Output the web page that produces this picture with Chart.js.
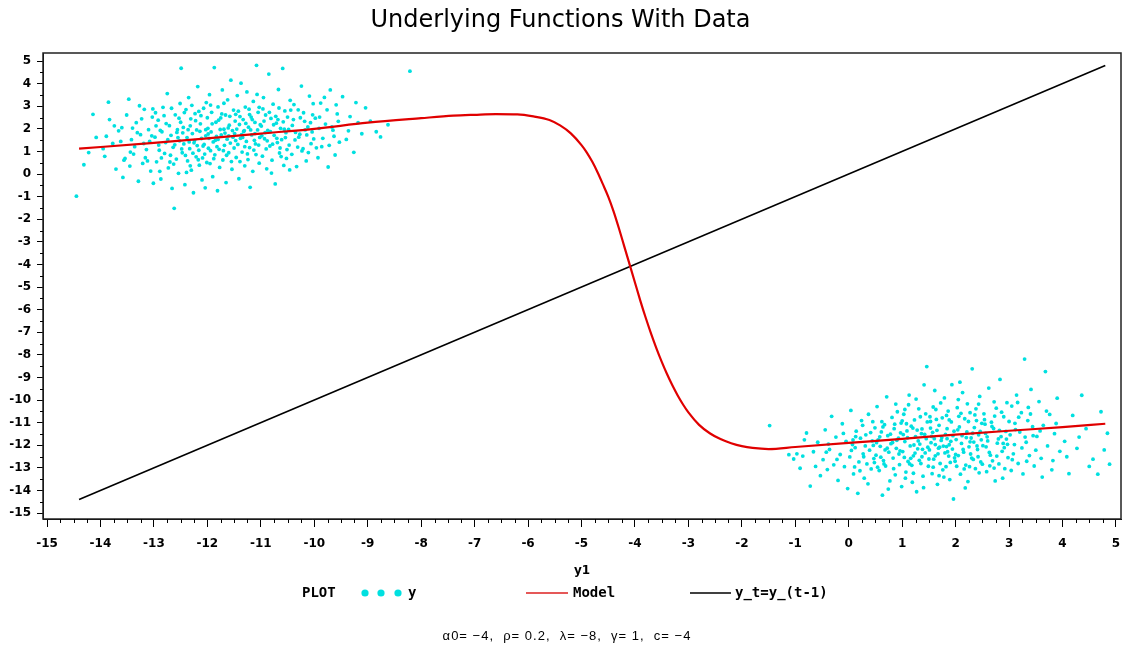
<!DOCTYPE html>
<html>
<head>
<meta charset="utf-8">
<title>Underlying Functions With Data</title>
<script src="https://cdn.jsdelivr.net/npm/chart.js"></script>
<style>
  body { margin: 0; background: #fff; }
  #wrap { width: 1125px; height: 652px; }
</style>
</head>
<body>
<div id="wrap"><canvas id="myChart" width="1125" height="652"></canvas></div>
<script>
// observed points (y1, y), upper regime
var obsUpper = [
  [-14.45,-0.98],[-14.22,0.95],[-14.08,1.62],[-14.31,0.41],[-14.14,2.64],
  [-13.92,0.78],[-13.85,3.18],[-13.77,1.35],[-13.71,0.22],[-13.66,1.91],[-13.6,2.05],[-13.95,1.12],[-13.54,0.69],[-13.83,2.41],[-13.58,-0.15],
  [-13.47,3.31],[-13.42,1.52],[-13.38,0.88],[-13.33,2.27],[-13.29,-0.32],[-13.25,1.74],[-13.21,0.47],[-13.18,2.86],[-13.14,1.08],[-13.1,1.96],[-13.06,0.13],[-13.03,2.52],[-13.45,0.35],[-13.36,1.21],[-13.27,3.02],[-13.16,0.72],[-13.08,1.44],[-13.01,-0.41],
  [-12.98,1.63],[-12.95,0.54],[-12.92,2.38],[-12.9,1.05],[-12.87,-0.22],[-12.85,1.87],[-12.83,2.95],[-12.8,0.91],[-12.78,1.39],[-12.75,3.56],[-12.73,0.27],[-12.71,2.14],[-12.68,1.71],[-12.66,-0.64],[-12.64,1.18],[-12.62,-1.52],[-12.6,2.62],[-12.58,0.66],[-12.56,1.96],[-12.54,0.03],[-12.52,1.47],[-12.51,3.12],[-12.97,2.71],[-12.89,0.12],[-12.77,2.23],[-12.69,0.83],[-12.61,1.29],[-12.53,2.47],
  [-12.49,4.68],[-12.47,0.94],[-12.45,2.06],[-12.44,1.33],[-12.42,-0.47],[-12.4,2.85],[-12.38,1.61],[-12.37,0.58],[-12.35,3.38],[-12.33,1.12],[-12.31,2.44],[-12.3,0.17],[-12.28,1.79],[-12.26,-0.83],[-12.25,1.38],[-12.23,2.67],[-12.21,0.76],[-12.2,1.95],[-12.18,3.87],[-12.16,1.05],[-12.15,0.39],[-12.13,2.22],[-12.11,1.57],[-12.1,-0.26],[-12.08,1.24],[-12.07,2.91],[-12.05,0.88],[-12.03,1.69],[-12.02,3.16],[-12.01,0.51],[-12.46,1.82],[-12.39,0.07],[-12.32,2.13],[-12.24,1.48],[-12.17,0.63],[-12.12,2.58],[-12.06,1.31],[-12.04,-0.61],
  [-11.99,2.02],[-11.98,1.14],[-11.96,3.51],[-11.95,0.46],[-11.93,1.86],[-11.92,2.73],[-11.9,-0.12],[-11.89,1.42],[-11.87,4.71],[-11.86,0.85],[-11.84,2.29],[-11.83,1.66],[-11.81,-0.74],[-11.8,2.97],[-11.78,1.09],[-11.77,0.29],[-11.75,2.48],[-11.74,1.73],[-11.72,3.72],[-11.71,0.62],[-11.69,1.98],[-11.68,1.27],[-11.66,2.61],[-11.65,-0.38],[-11.63,1.54],[-11.62,3.28],[-11.6,0.94],[-11.59,2.16],[-11.57,1.37],[-11.56,4.15],[-11.54,0.21],[-11.53,1.92],[-11.51,2.83],[-11.97,1.58],[-11.88,0.68],[-11.79,2.38],[-11.7,1.03],[-11.61,2.04],[-11.55,0.55],[-11.52,1.63],[-11.94,3.05],[-11.82,1.21],
  [-11.49,1.79],[-11.47,2.64],[-11.46,0.73],[-11.44,3.47],[-11.43,1.31],[-11.41,-0.21],[-11.4,2.19],[-11.38,1.58],[-11.37,4.02],[-11.35,0.97],[-11.33,2.41],[-11.32,1.88],[-11.3,0.36],[-11.29,2.96],[-11.27,1.44],[-11.26,3.63],[-11.24,0.64],[-11.23,2.07],[-11.21,1.17],[-11.2,-0.59],[-11.18,2.52],[-11.17,1.73],[-11.15,0.12],[-11.14,3.21],[-11.12,1.49],[-11.11,2.28],[-11.09,0.86],[-11.08,4.81],[-11.06,1.95],[-11.05,2.73],[-11.03,0.48],[-11.02,1.62],[-11.48,2.34],[-11.39,0.55],[-11.31,1.92],[-11.22,2.87],[-11.13,1.06],[-11.07,3.52],[-11.04,1.28],[-11.36,1.74],
  [-10.99,2.12],[-10.97,0.79],[-10.95,3.38],[-10.93,1.56],[-10.91,2.61],[-10.89,0.23],[-10.87,1.93],[-10.85,4.42],[-10.83,1.24],[-10.81,2.46],[-10.79,0.61],[-10.77,3.09],[-10.75,1.71],[-10.73,-0.44],[-10.71,2.25],[-10.69,1.39],[-10.67,3.74],[-10.65,0.93],[-10.63,2.02],[-10.61,1.52],[-10.59,4.67],[-10.57,0.38],[-10.55,2.79],[-10.53,1.83],[-10.51,1.08],[-10.96,2.88],[-10.88,1.47],[-10.8,0.04],[-10.72,2.55],[-10.64,1.15],[-10.58,2.31],[-10.52,0.69],
  [-10.48,1.97],[-10.45,3.26],[-10.42,0.87],[-10.39,2.41],[-10.36,1.51],[-10.33,0.33],[-10.3,2.84],[-10.27,1.76],[-10.24,3.89],[-10.21,1.12],[-10.18,2.33],[-10.15,0.58],[-10.12,2.08],[-10.09,3.45],[-10.06,1.34],[-10.03,2.62],[-10.46,0.18],[-10.38,3.07],[-10.29,1.63],[-10.2,2.71],[-10.11,0.95],[-10.04,1.86],
  [-9.98,2.47],[-9.93,0.72],[-9.88,3.14],[-9.84,1.58],[-9.79,2.21],[-9.74,0.31],[-9.7,3.72],[-9.65,1.94],[-9.61,0.84],[-9.57,2.66],[-9.53,1.41],[-9.96,1.16],[-9.81,3.39],[-9.67,2.08],
  [-9.47,3.42],[-9.4,1.53],[-9.33,2.54],[-9.26,0.96],[-9.18,2.27],[-9.11,1.78],[-9.04,2.93],
  [-8.95,2.34],[-8.84,1.87],[-8.76,1.64],[-8.62,2.18],[-8.21,4.55],
  [-13.62,1.44],[-13.51,2.61],[-13.44,0.97],[-13.31,1.83],[-13.23,2.44],[-13.12,0.58],[-13.04,1.69],[-12.96,2.13],[-12.91,1.28],[-12.86,0.71],[-12.81,2.58],[-12.74,1.52],[-12.67,2.91],[-12.63,0.44],[-12.57,1.84],[-12.5,2.29],[-12.48,1.11],[-12.43,2.72],[-12.41,0.82],[-12.36,1.96],[-12.34,1.42],[-12.29,3.04],[-12.27,0.92],[-12.22,2.36],[-12.19,1.26],[-12.14,1.89],[-12.09,0.71],[-12.0,2.49],[-11.985,1.77],[-11.91,2.22],[-11.85,1.49],[-11.76,1.97],[-11.73,2.66],[-11.67,1.81],[-11.64,0.83],[-11.58,2.55],[-11.5,1.15],[-11.45,1.99],[-11.42,2.78],[-11.34,1.62],[-11.28,2.24],[-11.25,0.89],[-11.19,1.95],[-11.16,2.41],[-11.1,1.33],[-11.01,2.18],[-10.98,1.69],[-10.94,2.34],[-10.9,1.11],[-10.84,2.73],[-10.82,1.87],[-10.76,2.18],[-10.7,1.58],[-10.66,2.92],[-10.62,0.77],[-10.56,1.98],[-10.5,2.52],[-10.47,1.28],[-10.41,2.15],[-10.35,1.84],[-10.26,2.49],[-10.23,1.02],[-10.14,1.73],[-10.07,2.27],[-10.01,1.55],[-9.91,2.02],[-9.86,1.21],[-9.76,2.84],[-9.63,1.67],[-9.55,2.33],[-9.36,1.91],[-9.22,3.16],
  [-13.89,1.67],[-13.74,2.13],[-13.56,0.61],[-13.4,2.03],[-13.19,1.35],[-13.02,2.88],[-12.88,1.93],[-12.7,0.53],[-12.55,1.61],[-12.32,0.36],[-12.16,2.77],[-12.03,1.96],[-11.94,1.03],[-11.8,1.53],[-11.69,3.13],[-11.6,1.69],[-11.47,1.48],[-11.39,2.54],[-11.3,1.21],[-11.21,2.63],[-11.11,1.79],[-11.03,2.95],[-10.92,1.83],[-10.78,1.32],[-10.68,2.41],[-10.54,1.61],[-10.44,2.83],[-10.31,1.19],[-10.17,1.95],[-10.02,3.11],[-9.9,2.52],[-9.72,1.27],[-9.59,3.06]
];

// observed points (y1, y), lower regime
var obsLower = [
  [-1.48,-11.13],[-1.12,-12.42],[-1.03,-12.61],
  [-0.97,-12.38],[-0.91,-13.02],[-0.86,-12.48],[-0.79,-11.46],[-0.72,-13.81],[-0.66,-12.29],[-0.58,-11.87],[-0.53,-13.35],
  [-0.48,-12.64],[-0.44,-11.32],[-0.4,-13.08],[-0.36,-12.19],[-0.32,-10.72],[-0.28,-12.87],[-0.24,-11.64],[-0.2,-13.56],[-0.16,-12.41],[-0.12,-11.05],[-0.08,-12.95],[-0.05,-11.83],[-0.02,-13.92],[-0.42,-12.31],
  [0.02,-12.52],[0.04,-10.46],[0.07,-11.97],[0.09,-13.27],[0.12,-12.11],[0.14,-11.38],[0.17,-14.13],[0.19,-12.74],[0.22,-11.69],[0.24,-10.91],[0.27,-12.38],[0.29,-13.46],[0.32,-11.54],[0.34,-12.83],[0.37,-10.63],[0.39,-12.22],[0.42,-13.05],[0.44,-11.81],[0.47,-12.59],[0.49,-11.23],[0.11,-12.96],[0.26,-11.12],[0.36,-13.71],[0.46,-12.01],
  [0.51,-12.44],[0.53,-10.29],[0.55,-11.76],[0.57,-13.12],[0.59,-12.05],[0.61,-11.41],[0.63,-14.21],[0.65,-12.68],[0.67,-11.09],[0.69,-12.92],[0.71,-9.86],[0.73,-11.58],[0.75,-12.31],[0.77,-13.58],[0.79,-11.93],[0.81,-10.77],[0.83,-12.57],[0.85,-11.27],[0.87,-13.31],[0.89,-12.14],[0.91,-10.52],[0.93,-11.69],[0.95,-12.86],[0.97,-11.45],[0.99,-13.83],[0.54,-12.97],[0.62,-10.96],[0.68,-12.21],[0.74,-13.94],[0.82,-11.88],[0.88,-10.18],[0.94,-12.39],[0.98,-11.02],[0.58,-11.63],
  [1.01,-12.28],[1.03,-10.63],[1.05,-11.84],[1.07,-13.19],[1.09,-11.37],[1.11,-12.72],[1.13,-9.78],[1.15,-12.03],[1.17,-11.16],[1.19,-13.64],[1.21,-12.47],[1.23,-10.88],[1.25,-11.62],[1.27,-14.06],[1.29,-12.16],[1.31,-10.39],[1.33,-11.95],[1.35,-12.81],[1.37,-11.28],[1.39,-13.37],[1.41,-9.33],[1.43,-12.34],[1.45,-11.71],[1.47,-10.97],[1.49,-12.93],[1.02,-11.53],[1.06,-13.46],[1.12,-10.21],[1.16,-12.58],[1.22,-11.99],[1.26,-9.96],[1.32,-12.67],[1.36,-11.49],[1.4,-13.88],[1.44,-10.61],[1.48,-12.09],[1.08,-11.05],[1.18,-12.89],[1.28,-11.33],[1.46,-8.52],
  [1.51,-12.21],[1.52,-10.74],[1.54,-11.89],[1.56,-13.26],[1.57,-11.43],[1.59,-12.62],[1.61,-9.58],[1.62,-11.97],[1.64,-10.86],[1.66,-13.73],[1.67,-12.38],[1.69,-11.12],[1.71,-12.81],[1.72,-10.13],[1.74,-11.66],[1.76,-13.09],[1.77,-12.04],[1.79,-9.91],[1.81,-11.52],[1.82,-12.95],[1.84,-11.27],[1.86,-10.49],[1.87,-12.48],[1.89,-13.52],[1.91,-11.83],[1.92,-10.97],[1.94,-12.17],[1.96,-14.38],[1.97,-11.38],[1.99,-12.71],[1.53,-11.24],[1.58,-12.97],[1.63,-10.42],[1.68,-12.13],[1.73,-11.79],[1.78,-13.41],[1.83,-10.68],[1.88,-11.98],[1.93,-9.32],[1.98,-12.56],[1.6,-11.71],[1.85,-12.29],
  [2.01,-11.75],[2.03,-10.34],[2.05,-12.46],[2.07,-11.19],[2.09,-13.28],[2.11,-11.92],[2.13,-9.67],[2.15,-12.31],[2.17,-10.83],[2.19,-12.88],[2.21,-11.41],[2.23,-13.61],[2.25,-12.07],[2.27,-10.56],[2.29,-11.68],[2.31,-8.62],[2.33,-12.63],[2.35,-11.22],[2.37,-13.04],[2.39,-10.91],[2.41,-12.19],[2.43,-11.54],[2.45,-9.84],[2.47,-12.74],[2.49,-11.03],[2.02,-12.93],[2.06,-10.72],[2.12,-11.58],[2.18,-13.89],[2.22,-10.17],[2.28,-12.39],[2.34,-11.86],[2.38,-10.39],[2.44,-13.22],[2.48,-11.76],[2.08,-9.21],[2.26,-12.95],[2.42,-12.51],
  [2.51,-12.02],[2.53,-10.61],[2.56,-11.48],[2.58,-13.17],[2.6,-11.81],[2.62,-9.47],[2.65,-12.44],[2.67,-10.98],[2.69,-12.69],[2.71,-11.26],[2.74,-13.58],[2.76,-10.36],[2.78,-11.91],[2.81,-12.83],[2.83,-9.09],[2.85,-11.62],[2.87,-12.27],[2.9,-10.74],[2.92,-13.04],[2.94,-11.39],[2.96,-10.12],[2.98,-12.55],[2.55,-11.07],[2.64,-12.91],[2.72,-10.08],[2.8,-11.72],[2.88,-13.46],[2.97,-11.96],
  [3.02,-11.54],[3.05,-10.27],[3.08,-12.38],[3.11,-11.03],[3.14,-9.78],[3.17,-12.81],[3.2,-11.42],[3.23,-10.56],[3.26,-13.27],[3.29,-8.19],[3.32,-11.87],[3.35,-10.91],[3.38,-12.46],[3.41,-9.53],[3.44,-11.18],[3.47,-12.92],[3.1,-11.97],[3.36,-10.33],
  [3.52,-11.61],[3.56,-10.07],[3.6,-12.58],[3.64,-11.12],[3.68,-8.74],[3.72,-12.03],[3.76,-10.64],[3.8,-13.09],[3.85,-11.49],[3.9,-9.92],[3.95,-12.27],
  [4.04,-11.83],[4.12,-13.26],[4.19,-10.68],[4.27,-12.14],[4.36,-9.79],[4.44,-11.27],
  [4.57,-12.62],[4.66,-13.28],[4.72,-10.52],[4.78,-12.21],[4.84,-11.47],[4.88,-12.84],
  [-0.38,-11.95],[-0.22,-12.63],[-0.1,-11.48],[0.05,-12.23],[0.13,-11.62],[0.21,-13.13],[0.31,-12.03],[0.41,-11.44],[0.48,-12.77],[0.52,-11.89],[0.6,-12.53],[0.64,-11.19],[0.72,-12.13],[0.78,-11.51],[0.84,-13.04],[0.9,-11.78],[0.96,-12.25],[1.0,-10.92],[1.04,-12.54],[1.1,-11.67],[1.14,-12.83],[1.2,-11.24],[1.24,-12.35],[1.3,-11.81],[1.34,-10.74],[1.38,-12.18],[1.42,-11.52],[1.5,-12.61],[1.55,-11.61],[1.58,-10.31],[1.62,-12.47],[1.65,-11.34],[1.7,-12.09],[1.75,-10.79],[1.8,-12.34],[1.84,-11.71],[1.88,-10.88],[1.9,-12.76],[1.95,-11.58],[2.0,-12.41],[2.04,-11.32],[2.1,-10.59],[2.14,-12.19],[2.2,-11.66],[2.24,-10.95],[2.3,-12.57],[2.32,-11.47],[2.36,-10.66],[2.4,-12.03],[2.46,-11.39],[2.5,-12.84],[2.54,-10.87],[2.59,-11.63],[2.63,-12.32],[2.68,-11.17],[2.73,-10.71],[2.77,-12.48],[2.82,-11.34],[2.86,-10.54],[2.91,-12.11],[2.95,-11.73],[3.0,-10.95],[3.06,-12.64],[3.12,-11.31],[3.18,-10.76],[3.24,-12.12],[3.3,-11.64],[3.4,-10.62],[3.5,-12.22],[3.58,-11.37],[3.7,-10.49],[3.82,-12.68],
  [0.08,-11.77],[0.28,-12.51],[0.45,-10.96],[0.66,-12.83],[0.86,-11.07],[1.05,-10.42],[1.21,-13.24],[1.37,-12.51],[1.53,-10.95],[1.69,-13.35],[1.83,-12.06],[2.05,-9.98],[2.16,-13.05],[2.27,-11.85],[2.43,-10.18],[2.57,-12.07],[2.72,-13.01],[2.89,-11.92],[3.04,-13.12],[3.16,-10.11],[3.33,-12.71],[3.45,-11.58],[3.62,-13.41],[3.88,-11.04],[4.08,-12.51],[4.31,-11.64],[4.5,-12.94],[-0.62,-12.94],[-0.83,-11.76]
];

// model curve
var modelX = [-14.4, -13, -12, -11, -10, -9, -8, -7.4, -7, -6.6, -6.2, -5.9, -5.6, -5.4, -5.2, -5.0, -4.9, -4.8, -4.7, -4.6, -4.5, -4.4, -4.3, -4.2, -4.1, -4.0, -3.9, -3.8, -3.7, -3.6, -3.5, -3.4, -3.3, -3.2, -3.1, -3.0, -2.8, -2.6, -2.4, -2.2, -2.0, -1.8, -1.5, -1, 0, 1, 2, 3, 4, 4.8];
var modelY = [1.12, 1.38, 1.58, 1.79, 2.0, 2.27, 2.47, 2.58, 2.62, 2.65, 2.64, 2.55, 2.39, 2.15, 1.8, 1.28, 0.95, 0.55, 0.08, -0.45, -1.0, -1.65, -2.4, -3.2, -4.0, -4.8, -5.6, -6.35, -7.05, -7.7, -8.3, -8.85, -9.35, -9.8, -10.2, -10.55, -11.1, -11.47, -11.73, -11.91, -12.04, -12.12, -12.17, -12.08, -11.9, -11.72, -11.53, -11.36, -11.2, -11.05];

// y_t = y_(t-1) reference line
var diagX = [-14.4, 4.8];
var diagY = [-14.4, 4.8];

var xTicks = [-15, -14, -13, -12, -11, -10, -9, -8, -7, -6, -5, -4, -3, -2, -1, 0, 1, 2, 3, 4, 5];
var yTicks = [5, 4, 3, 2, 1, 0, -1, -2, -3, -4, -5, -6, -7, -8, -9, -10, -11, -12, -13, -14, -15];

var footnote = "\u03b10= \u22124,  \u03c1= 0.2,  \u03bb= \u22128,  \u03b3= 1,  c= \u22124";

var tickFont = { family: "DejaVu Sans", weight: "bold", size: 12 };
var cyan = "#00e0e0";

var frame = {
  id: "frame",
  afterDraw: function(chart) {
    var ctx = chart.ctx, a = chart.chartArea;
    var sx = chart.scales.x, sy = chart.scales.y;
    ctx.save();
    ctx.strokeStyle = "#222";
    ctx.lineWidth = 1.5;
    ctx.strokeRect(a.left, a.top, a.right - a.left, a.bottom - a.top);

    // minor ticks
    ctx.lineWidth = 1;
    ctx.strokeStyle = "#000";
    ctx.beginPath();
    for (var i = 0; i < xTicks.length - 1; i++) {
      for (var k = 1; k < 4; k++) {
        var px = Math.round(sx.getPixelForValue(xTicks[i] + k * 0.25)) + 0.5;
        ctx.moveTo(px, a.bottom);
        ctx.lineTo(px, a.bottom + 4);
      }
    }
    for (var j = 0; j < yTicks.length - 1; j++) {
      var py = Math.round(sy.getPixelForValue(yTicks[j] - 0.5)) + 0.5;
      ctx.moveTo(a.left, py);
      ctx.lineTo(a.left - 3, py);
    }
    ctx.stroke();

    // legend
    var ly = 593;
    ctx.fillStyle = "#000";
    ctx.textBaseline = "middle";
    ctx.textAlign = "left";
    ctx.font = "bold 14px 'DejaVu Sans Mono'";
    ctx.fillText("PLOT", 302, ly);
    ctx.fillStyle = cyan;
    [365, 381, 398].forEach(function(cx) {
      ctx.beginPath();
      ctx.arc(cx, ly, 3.6, 0, Math.PI * 2);
      ctx.fill();
    });
    ctx.fillStyle = "#000";
    ctx.fillText("y", 408, ly);
    ctx.lineWidth = 1.5;
    ctx.strokeStyle = "#dd2020";
    ctx.beginPath(); ctx.moveTo(526, ly); ctx.lineTo(568, ly); ctx.stroke();
    ctx.fillText("Model", 573, ly);
    ctx.strokeStyle = "#000";
    ctx.beginPath(); ctx.moveTo(690, ly); ctx.lineTo(731, ly); ctx.stroke();
    ctx.fillText("y_t=y_(t-1)", 735, ly);

    // footnote
    ctx.font = "13px 'Liberation Sans'";
    ctx.letterSpacing = "1px";
    ctx.textAlign = "center";
    ctx.fillText(footnote, 567, 636);
    ctx.restore();
  }
};

new Chart("myChart", {
  type: "scatter",
  data: {
    datasets: [{
      label: "y",
      data: obsUpper.concat(obsLower).map(function(p) { return { x: p[0], y: p[1] }; }),
      backgroundColor: cyan,
      borderWidth: 0,
      pointRadius: 1.9,
      order: 3
    }, {
      label: "Model",
      data: modelX.map(function(v, i) { return { x: v, y: modelY[i] }; }),
      showLine: true,
      borderColor: "#e00000",
      borderWidth: 2.2,
      pointRadius: 0,
      cubicInterpolationMode: "monotone",
      order: 1
    }, {
      label: "y_t=y_(t-1)",
      data: diagX.map(function(v, i) { return { x: v, y: diagY[i] }; }),
      showLine: true,
      borderColor: "#000",
      borderWidth: 1.6,
      pointRadius: 0,
      order: 2
    }]
  },
  options: {
    responsive: false,
    animation: false,
    layout: { padding: { top: 0, left: 0, right: 4, bottom: 71 } },
    plugins: {
      legend: { display: false },
      tooltip: { enabled: false },
      title: {
        display: true,
        text: "Underlying Functions With Data",
        color: "#000",
        font: { family: "DejaVu Sans", size: 24, weight: "normal", lineHeight: 1.2 },
        padding: { top: 6, bottom: 18.2 }
      }
    },
    scales: {
      x: {
        type: "linear",
        min: -15.075,
        max: 5.094,
        afterBuildTicks: function(s) { s.ticks = xTicks.map(function(v) { return { value: v }; }); },
        afterFit: function(s) { s.height = 62; s.paddingLeft = 0; s.paddingRight = 0; },
        grid: { drawOnChartArea: false, drawTicks: true, tickLength: 8, color: "#000" },
        border: { display: true, color: "#000" },
        ticks: { color: "#000", font: tickFont, padding: 10, maxRotation: 0, autoSkip: false },
        title: { display: true, text: "y1", color: "#000", font: tickFont, padding: { top: 0, bottom: 3 } }
      },
      y: {
        type: "linear",
        min: -15.265,
        max: 5.354,
        afterBuildTicks: function(s) { s.ticks = yTicks.map(function(v) { return { value: v }; }); },
        afterFit: function(s) { s.width = 43; },
        grid: { drawOnChartArea: false, drawTicks: true, tickLength: 6, color: "#000" },
        border: { display: true, color: "#000" },
        ticks: { color: "#000", font: tickFont, padding: 6, autoSkip: false }
      }
    }
  },
  plugins: [frame]
});
</script>
</body>
</html>
